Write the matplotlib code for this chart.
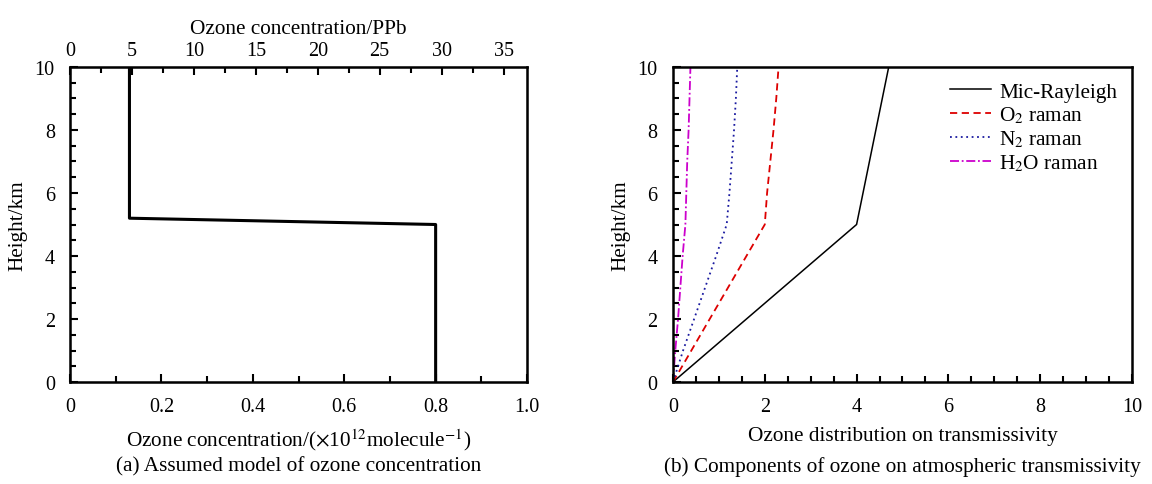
import matplotlib
matplotlib.use('Agg')
import matplotlib.pyplot as plt
from matplotlib.ticker import MultipleLocator

plt.rcParams['font.family'] = ['Liberation Serif', 'DejaVu Serif']
plt.rcParams['mathtext.fontset'] = 'stix'

# (a) assumed ozone profile
conc_x = [0.13, 0.13, 0.8, 0.8]
conc_h = [10.0, 5.2, 5.0, 0.0]

# (b) transmissivity components
height = [0, 1, 2, 3, 4, 5, 6, 7, 8, 9, 10]
mic_rayleigh = [0, 0.8, 1.6, 2.4, 3.2, 4.0, 4.14, 4.28, 4.42, 4.56, 4.7]
o2_raman = [0, 0.4, 0.8, 1.2, 1.6, 2.0, 2.05, 2.12, 2.19, 2.25, 2.3]
n2_raman = [0, 0.22, 0.46, 0.7, 0.94, 1.17, 1.23, 1.28, 1.33, 1.37, 1.4]
h2o_raman = [0, 0.05, 0.11, 0.16, 0.21, 0.27, 0.29, 0.31, 0.34, 0.36, 0.38]

FS = 14.5   # tick labels
LFS = 15.3  # axis labels, legend, captions

fig = plt.figure(figsize=(11.52, 4.85), dpi=100)

def style_axes(ax):
  ax.tick_params(which='both', direction='in', labelsize=FS, width=1.5,
                 top=False, right=False, pad=11)
  ax.tick_params(which='major', length=6)
  ax.tick_params(which='minor', length=4)
  for s in ax.spines.values():
    s.set_linewidth(1.8)

# ---- left panel
ax1 = fig.add_axes([0.0608, 0.2103, 0.3967, 0.6495])
ax1.plot(conc_x, conc_h, color='black', lw=2.2)
ax1.set_xlim(0, 1.0)
ax1.set_ylim(0, 10)
ax1.set_xticks([0, 0.2, 0.4, 0.6, 0.8, 1.0])
ax1.set_xticklabels(['0', '0.2', '0.4', '0.6', '0.8', '1.0'])
ax1.xaxis.set_minor_locator(MultipleLocator(0.1))
ax1.yaxis.set_major_locator(MultipleLocator(2))
ax1.yaxis.set_minor_locator(MultipleLocator(0.5))
style_axes(ax1)
ax1.set_xlabel(r'Ozone concentration/($\times$10$^{12}$molecule$^{-1}$)', fontsize=LFS, labelpad=7)
ax1.set_ylabel('Height/km', fontsize=LFS, labelpad=5)

ax1t = ax1.twiny()
ax1t.set_xlim(0, 36.9)
ax1t.xaxis.set_major_locator(MultipleLocator(5))
ax1t.xaxis.set_minor_locator(MultipleLocator(2.5))
ax1t.tick_params(which='both', direction='in', labelsize=FS, width=1.5, pad=5)
ax1t.tick_params(which='major', length=6)
ax1t.tick_params(which='minor', length=4)
ax1t.set_xlabel('Ozone concentration/PPb', fontsize=LFS, labelpad=6)

fig.text(0.2592, 0.027, '(a) Assumed model of ozone concentration', ha='center', fontsize=LFS)

# ---- right panel
ax2 = fig.add_axes([0.5842, 0.2103, 0.3984, 0.6495])
ax2.plot(mic_rayleigh, height, color='black', lw=1.1, label='Mic-Rayleigh')
ax2.plot(o2_raman, height, color='#dd0000', lw=1.3, ls=(0, (4, 2.5)), label=r'O$_2$ raman')
ax2.plot(n2_raman, height, color='#1a1aa0', lw=1.3, ls=(0, (1, 2)), label=r'N$_2$ raman')
ax2.plot(h2o_raman, height, color='#cc00cc', lw=1.3, ls=(0, (5, 1.5, 1, 1.5)), label=r'H$_2$O raman')
ax2.set_xlim(0, 10)
ax2.set_ylim(0, 10)
ax2.xaxis.set_major_locator(MultipleLocator(2))
ax2.xaxis.set_minor_locator(MultipleLocator(0.5))
ax2.yaxis.set_major_locator(MultipleLocator(2))
ax2.yaxis.set_minor_locator(MultipleLocator(0.5))
style_axes(ax2)
ax2.set_xlabel('Ozone distribution on transmissivity', fontsize=LFS, labelpad=7)
ax2.set_ylabel('Height/km', fontsize=LFS, labelpad=5)
ax2.legend(loc='upper right', frameon=False, fontsize=LFS, handlelength=1.9,
           handletextpad=0.4, labelspacing=0.15, borderaxespad=0.3)

fig.text(0.7834, 0.027, '(b) Components of ozone on atmospheric transmissivity', ha='center', fontsize=LFS)

fig.savefig('out.png', dpi=100)
